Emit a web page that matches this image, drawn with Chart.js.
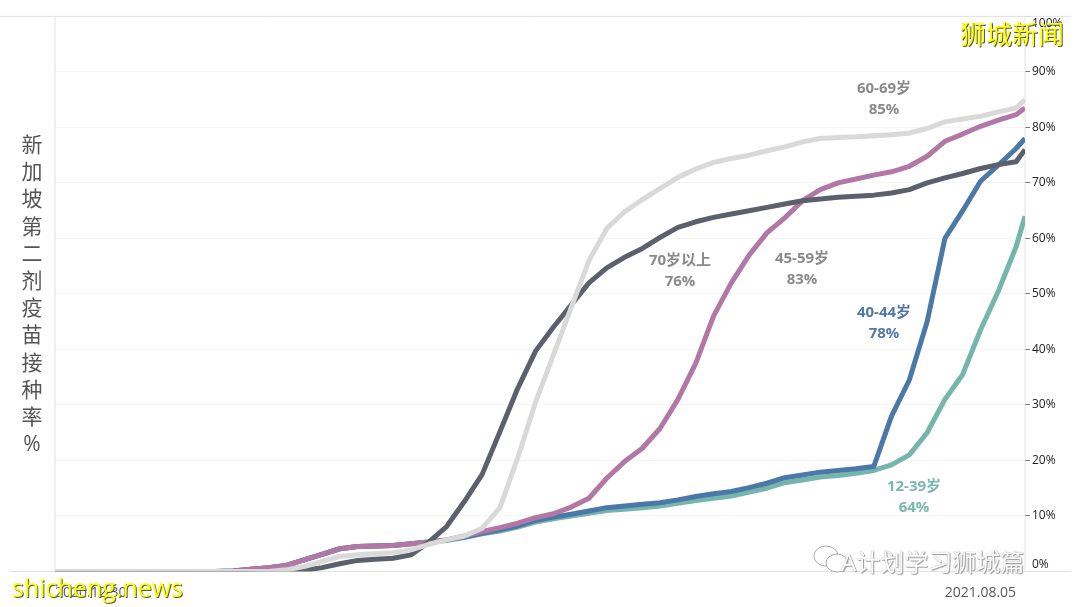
<!DOCTYPE html>
<html lang="zh">
<head>
<meta charset="utf-8">
<title>新加坡第二剂疫苗接种率</title>
<script src="https://cdn.jsdelivr.net/npm/chart.js@4/dist/chart.umd.min.js"></script>
<style>
    html, body { margin: 0; padding: 0; background: #fff; }
    #wrap { position: relative; width: 1080px; height: 607px; overflow: hidden; font-family: "Open Sans", "Noto Sans CJK SC", sans-serif; }
    canvas { position: absolute; left: 0; top: 0; }
    .note { position: absolute; transform: translateX(-50%); text-align: center; font-weight: 700; font-size: 15px; line-height: 21px; white-space: nowrap; color: #8a8a8a; }
    #ytitle { position: absolute; left: 20px; top: 131px; width: 24px; text-align: center; font-size: 21px; line-height: 27.2px; color: #555; }
    .mark { position: absolute; white-space: nowrap; color: #ffff00; text-shadow: 1px 1px 0 #555; }
    #wechat { position: absolute; left: 820px; top: 543px; width: 226px; height: 34px; }
    #wechat span { position: absolute; left: 21px; top: 0; font-size: 24px; white-space: nowrap; color: #fff; text-shadow: 0 0 1px #888, 1px 1px 1px #999; }
</style>
</head>
<body>
<div id="wrap">
    <canvas id="vaksinChart" width="1080" height="607"></canvas>
    <div id="ytitle">新<br>加<br>坡<br>第<br>二<br>剂<br>疫<br>苗<br>接<br>种<br>率<br>%</div>
    <div class="note" style="left:884px;top:77px">60-69岁<br>85%</div>
    <div class="note" style="left:680px;top:249px">70岁以上<br>76%</div>
    <div class="note" style="left:802px;top:247px">45-59岁<br>83%</div>
    <div class="note" style="left:884px;top:301px;color:#5279a5">40-44岁<br>78%</div>
    <div class="note" style="left:914px;top:475px;color:#7ab8ae">12-39岁<br>64%</div>
    <div class="mark" style="left:960px;top:14px;font-size:26px;letter-spacing:0">狮城新闻</div>
    <div class="mark" style="left:12px;top:570px;font-size:25px">shicheng.news</div>
    <div id="wechat">
        <svg width="40" height="34" style="position:absolute;left:-8px;top:0" fill="#fff" stroke="#aaa" stroke-width="1">
            <ellipse cx="14" cy="13" rx="12" ry="10"/>
            <ellipse cx="25" cy="20" rx="11" ry="9"/>
        </svg>
        <span>A计划学习狮城篇</span>
    </div>
</div>

<script>
// Hari sejak 2020.12.30, tiap 4 hari plus hari terakhir
const days = [0, 4, 8, 12, 16, 20, 24, 28, 32, 36, 40, 44, 48, 52, 56, 60, 64, 68, 72, 76, 80, 84, 88, 92, 96, 100, 104, 108,
    112, 116, 120, 124, 128, 132, 136, 140, 144, 148, 152, 156, 160, 164, 168, 172, 176, 180, 184, 188, 192, 196, 200, 204, 208, 212, 216, 218];

const age60to69 = [0, 0, 0, 0, 0, 0, 0, 0, 0, 0, 0, 0, 0, 0.3, 0.9, 1.8, 2.7, 3, 3.2, 3.4, 3.9, 4.9, 5.7, 6.4, 7.8, 11.5, 20.5, 30.5,
    39, 47.5, 56, 61.8, 64.8, 67, 69, 71, 72.5, 73.7, 74.4, 75, 75.8, 76.5, 77.4, 78, 78.2, 78.3, 78.5, 78.7, 79, 79.8, 81, 81.5, 82, 82.8, 83.5, 85];
const age70plus = [0, 0, 0, 0, 0, 0, 0, 0, 0, 0, 0, 0, 0, 0, 0.2, 0.7, 1.4, 2, 2.2, 2.4, 3, 5.3, 8.1, 12.6, 17.5, 25.2, 33, 39.7,
    44, 48, 52, 54.7, 56.6, 58.2, 60.2, 62, 63, 63.8, 64.4, 65, 65.6, 66.2, 66.8, 67.1, 67.4, 67.6, 67.8, 68.2, 68.8, 70, 70.9, 71.7, 72.6, 73.3, 73.8, 76];
const age45to59 = [0, 0, 0, 0, 0, 0, 0, 0, 0, 0, 0.1, 0.4, 0.7, 1.1, 2.1, 3.1, 4.1, 4.5, 4.6, 4.7, 5, 5.3, 5.7, 6.4, 7.2, 7.9, 8.7, 9.7,
    10.4, 11.6, 13.2, 16.8, 19.8, 22.2, 25.8, 31, 37.5, 46, 52, 57, 61, 63.7, 66.8, 68.8, 70, 70.7, 71.4, 72, 73, 74.8, 77.5, 78.8, 80.2, 81.3, 82.3, 83.5];
const age40to44 = [0, 0, 0, 0, 0, 0, 0, 0, 0, 0, 0.1, 0.4, 0.7, 1.1, 2.1, 3.1, 4.1, 4.5, 4.6, 4.7, 5, 5.3, 5.7, 6.2, 6.9, 7.5, 8.2, 9.2,
    9.8, 10.3, 10.9, 11.5, 11.8, 12.1, 12.4, 12.9, 13.5, 14, 14.4, 15.1, 15.9, 16.9, 17.4, 17.9, 18.2, 18.5, 18.9, 28, 34.5, 45, 60, 65, 70.3, 73.2, 76.2, 78];
const age12to39 = [0, 0, 0, 0, 0, 0, 0, 0, 0, 0, 0.1, 0.4, 0.7, 1.1, 2.1, 3.1, 4.1, 4.5, 4.6, 4.7, 5, 5.3, 5.6, 6.1, 6.8, 7.3, 8, 8.9,
    9.5, 10, 10.5, 11, 11.2, 11.5, 11.8, 12.3, 12.8, 13.2, 13.6, 14.3, 15, 16, 16.5, 17, 17.3, 17.7, 18.2, 19.2, 21, 25, 31, 35.5, 43.5, 50.5, 58.5, 64];

const xTickDays = [0, 216];
const xTickLabels = ['2020.12.30', '2021.08.05'];

function toPoints(values) {
    return values.map((v, i) => ({ x: days[i], y: v }));
}

document.addEventListener('DOMContentLoaded', function() {

    // Garis bingkai tipis di sekeliling area plot
    const framePlugin = {
        id: 'frame',
        beforeDatasetsDraw(chart) {
            const { ctx, chartArea: a } = chart;
            ctx.save();
            ctx.strokeStyle = '#e2e2e2';
            ctx.lineWidth = 1;
            ctx.beginPath();
            ctx.moveTo(0, a.top); ctx.lineTo(1071, a.top);
            ctx.moveTo(10, a.bottom); ctx.lineTo(1071, a.bottom);
            ctx.moveTo(a.left, a.top); ctx.lineTo(a.left, a.bottom);
            ctx.moveTo(a.right, a.top); ctx.lineTo(a.right, a.bottom);
            ctx.stroke();
            ctx.restore();
        }
    };

    const line = (label, values, color) => ({
        label: label,
        data: toPoints(values),
        borderColor: color,
        borderWidth: 5,
        pointRadius: 0,
        tension: 0,
        borderJoinStyle: 'round',
        borderCapStyle: 'butt'
    });

    new Chart(document.getElementById('vaksinChart'), {
        type: 'line',
        data: {
            datasets: [
                line('60-69岁', age60to69, '#d9d9d9'),
                line('70岁以上', age70plus, '#5b606c'),
                line('45-59岁', age45to59, '#b277a4'),
                line('40-44岁', age40to44, '#4a79a8'),
                line('12-39岁', age12to39, '#76b5ae')
            ]
        },
        options: {
            responsive: false,
            animation: false,
            layout: { padding: { left: 55, top: 10 } },
            plugins: { legend: { display: false }, tooltip: { enabled: false } },
            scales: {
                x: {
                    type: 'linear',
                    min: 0,
                    max: 218,
                    afterBuildTicks(scale) {
                        scale.ticks = xTickDays.map(d => ({ value: d }));
                    },
                    afterFit(scale) { scale.height = 35.5; },
                    grid: { display: false },
                    border: { display: false },
                    ticks: {
                        align: 'inner',
                        maxRotation: 0,
                        padding: 5,
                        color: '#595959',
                        font: { family: '"Open Sans"', size: 14 },
                        callback: (value) => xTickLabels[xTickDays.indexOf(value)]
                    }
                },
                y: {
                    position: 'right',
                    min: 0,
                    max: 100,
                    afterFit(scale) { scale.width = 55; },
                    border: { display: false },
                    grid: { color: '#f5f5f5', tickColor: '#777', tickLength: 5 },
                    ticks: {
                        stepSize: 10,
                        padding: 2,
                        color: '#222',
                        font: { family: '"Open Sans"', size: 12 },
                        callback(value) {
                            // label 100% dan 0% digeser masuk ke dalam
                            if (value === 100) return ['', '100%'];
                            if (value === 0) return ['0%', ''];
                            return value + '%';
                        }
                    }
                }
            }
        },
        plugins: [framePlugin]
    });

});
</script>
</body>
</html>
